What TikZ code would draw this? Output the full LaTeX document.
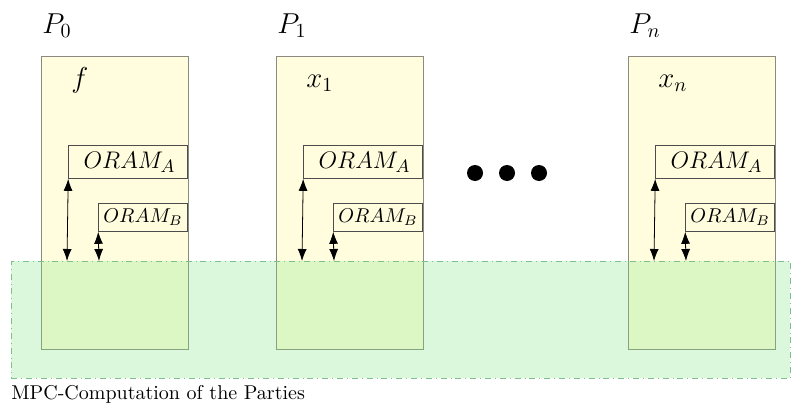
\documentclass[tikz,border=0pt]{standalone}
\usepackage{amsmath}
\usepackage{amssymb}
\usepackage{xcolor}
\usepackage{tikz}
\usetikzlibrary{arrows.meta}
\definecolor{partyfill}{HTML}{FFFDDE}
\definecolor{partyline}{HTML}{8A8A80}
\definecolor{mpcfill}{HTML}{7FE57F}
\definecolor{mpcline}{HTML}{7DBF8F}

\begin{document}
\begin{tikzpicture}[x=0.5pt,y=-0.5pt, >={Latex[length=6pt,width=4.5pt]},
    party/.style={draw=partyline, fill=partyfill, minimum width=73.5pt, minimum height=146.5pt, inner sep=0pt},
    oramA/.style={draw=black!70, fill=partyfill, font=\fontsize{13}{15}\selectfont, minimum width=59.5pt, minimum height=16.5pt, inner sep=0pt},
    oramB/.style={draw=black!70, fill=partyfill, minimum width=44.5pt, minimum height=14pt, inner sep=0pt},
    mpc/.style={draw=mpcline, dash dot, fill=mpcfill, fill opacity=0.27, minimum width=389.5pt, minimum height=58.5pt, inner sep=0pt}]
    \useasboundingbox (0,0) rectangle (792,407);

    % Parties with their inputs and ORAMs
    \foreach \name/\x/\lbl/\inp in {p0/41/P_0/f, p1/276/P_1/x_1, pn/628/P_n/x_n} {
        \node[party, anchor=north west] (\name) at (\x,56) {};
        \node[anchor=base west, font=\Large, inner sep=0pt] (\name-lbl) at (\x+1,33) {$\lbl$};
        \node[anchor=base west, font=\Large, inner sep=0pt] (\name-in) at (\x+30,87) {$\inp$};
        \node[oramA, anchor=north east] (\name-a) at (\x+147,145) {\hspace{1.5pt}$ORAM_A$};
        \node[oramB, anchor=north east] (\name-b) at (\x+147,203) {$ORAM_B$};
    }

    % Dots between the parties
    \fill (475,173) circle (8);
    \fill (507,173) circle (8);
    \fill (539,173) circle (8);

    % MPC region
    \node[mpc, anchor=north west] (mpc) at (11,261) {};
    \node[anchor=north west, inner xsep=0pt] (caption) at (mpc.south west) {MPC-Computation of the Parties};

    % Distances of the ORAMs to the MPC region
    \foreach \name/\x in {p0/41, p1/276, pn/628} {
        \coordinate (\name-ga) at (\x+26,261);
        \coordinate (\name-gb) at (\x+58,261);
        \draw[<->] (\name-a.south west) -- (\name-ga);
        \draw[<->] (\name-b.south west) -- (\name-gb);
    }
\end{tikzpicture}
\end{document}
